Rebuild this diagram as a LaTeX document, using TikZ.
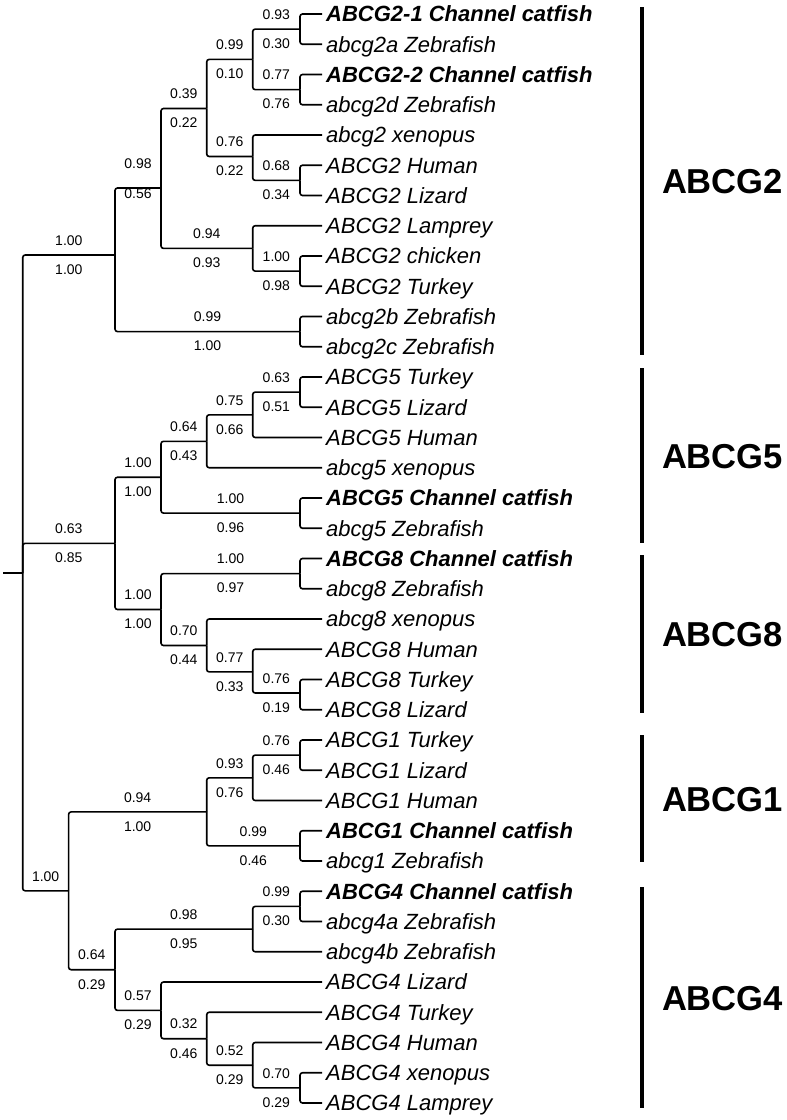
\documentclass[tikz,border=0pt]{standalone}
\usepackage{fontspec}
\setmainfont{Liberation Sans}

\tikzset{
  branch/.style={line width=1.6pt,rounded corners=2.5pt},
  leaf/.style={anchor=west,inner sep=4pt,text height=15.8pt,text depth=0pt,font=\fontsize{22}{22}\selectfont\itshape},
  leafbf/.style={leaf,font=\fontsize{22}{22}\selectfont\bfseries\itshape},
  bsval/.style={inner sep=0pt,text height=10pt,text depth=0pt,font=\fontsize{14}{14}\selectfont},
  bsup/.style={bsval,pos=.75,yshift=14.8pt},
  bsdn/.style={bsval,pos=.75,yshift=-14.3pt},
  cladebar/.style={line width=4pt},
  cladename/.style={midway,anchor=west,xshift=18pt,inner sep=0pt,text height=25pt,text depth=0pt,font=\fontsize{34.6}{35}\selectfont\bfseries},
}

\begin{document}
\begin{tikzpicture}[x=1pt,y=-1pt]
\useasboundingbox[fill=white] (0,0) rectangle (787,1120);

% leaves
\foreach \s/\t [count=\i] in {
  leafbf/ABCG2-1 Channel catfish, leaf/abcg2a Zebrafish,
  leafbf/ABCG2-2 Channel catfish, leaf/abcg2d Zebrafish,
  leaf/abcg2 xenopus, leaf/ABCG2 Human, leaf/ABCG2 Lizard,
  leaf/ABCG2 Lamprey, leaf/ABCG2 chicken, leaf/ABCG2 Turkey,
  leaf/abcg2b Zebrafish, leaf/abcg2c Zebrafish,
  leaf/ABCG5 Turkey, leaf/ABCG5 Lizard, leaf/ABCG5 Human, leaf/abcg5 xenopus,
  leafbf/ABCG5 Channel catfish, leaf/abcg5 Zebrafish,
  leafbf/ABCG8 Channel catfish, leaf/abcg8 Zebrafish, leaf/abcg8 xenopus,
  leaf/ABCG8 Human, leaf/ABCG8 Turkey, leaf/ABCG8 Lizard,
  leaf/ABCG1 Turkey, leaf/ABCG1 Lizard, leaf/ABCG1 Human,
  leafbf/ABCG1 Channel catfish, leaf/abcg1 Zebrafish,
  leafbf/ABCG4 Channel catfish, leaf/abcg4a Zebrafish, leaf/abcg4b Zebrafish,
  leaf/ABCG4 Lizard, leaf/ABCG4 Turkey, leaf/ABCG4 Human,
  leaf/ABCG4 xenopus, leaf/ABCG4 Lamprey}
  \node[\s] (leaf\i) at (322,{14+30.25*(\i-1)}) {\t};

% internal nodes
\coordinate (stub) at (3,573);
\coordinate (root) at (22.7,573);
\coordinate (g2) at (115,255);
\coordinate (g2a) at (161,188);
\coordinate (g2b) at (206.7,108.5);
\coordinate (g2c) at (252.7,59.4);
\coordinate (g2d1) at (300,29.1);
\coordinate (g2d2) at (300,89.6);
\coordinate (g2x) at (252.7,156.5);
\coordinate (g2hl) at (300,180.4);
\coordinate (g2lam) at (252.7,248.4);
\coordinate (g2ct) at (300,271.1);
\coordinate (g2bc) at (300,331.6);
\coordinate (g58) at (115,543.3);
\coordinate (g5) at (161,477.2);
\coordinate (g5x) at (206.7,441.3);
\coordinate (g5h) at (252.7,414.8);
\coordinate (g5tl) at (300,392.1);
\coordinate (g5cz) at (300,513.1);
\coordinate (g8) at (161,609.5);
\coordinate (g8cz) at (300,573.6);
\coordinate (g8x) at (206.7,645.5);
\coordinate (g8h) at (252.7,671.9);
\coordinate (g8tl) at (300,693);
\coordinate (g14) at (68.6,890.8);
\coordinate (g1) at (206.7,811.9);
\coordinate (g1h) at (252.7,777.8);
\coordinate (g1tl) at (300,755.1);
\coordinate (g1cz) at (300,845.9);
\coordinate (g4) at (115,969.7);
\coordinate (g4z) at (252.7,929.1);
\coordinate (g4cz) at (300,906.4);
\coordinate (g4l) at (161,1010.4);
\coordinate (g4t) at (206.7,1038.7);
\coordinate (g4hu) at (252.7,1065.2);
\coordinate (g4xl) at (300,1087.9);

% root
\draw[branch] (stub) -- (root);
\draw[branch] (root) |- node[bsup]{1.00} node[bsdn]{1.00} (g2);
\draw[branch] (root) |- node[bsup]{0.63} node[bsdn]{0.85} (g58);
\draw[branch] (root) |- node[bsup]{1.00} (g14);

% ABCG2
\draw[branch] (g2) |- (g2a);
\node[bsval] (s2aup) at (138,163.5) {0.98};
\node[bsval] (s2adn) at (138,193) {0.56};
\draw[branch] (g2) |- node[bsup]{0.99} node[bsdn]{1.00} (g2bc);
\draw[branch] (g2a) |- node[bsup]{0.39} node[bsdn]{0.22} (g2b);
\draw[branch] (g2a) |- node[bsup]{0.94} node[bsdn]{0.93} (g2lam);
\draw[branch] (g2b) |- node[bsup]{0.99} node[bsdn]{0.10} (g2c);
\draw[branch] (g2b) |- node[bsup]{0.76} node[bsdn]{0.22} (g2x);
\draw[branch] (g2c) |- node[bsup]{0.93} node[bsdn]{0.30} (g2d1);
\draw[branch] (g2c) |- node[bsup]{0.77} node[bsdn]{0.76} (g2d2);
\draw[branch] (g2x) |- node[bsup]{0.68} node[bsdn]{0.34} (g2hl);
\draw[branch] (g2lam) |- node[bsup]{1.00} node[bsdn]{0.98} (g2ct);

% ABCG5 and ABCG8
\draw[branch] (g58) |- node[bsup]{1.00} node[bsdn]{1.00} (g5);
\draw[branch] (g58) |- node[bsup]{1.00} node[bsdn]{1.00} (g8);
\draw[branch] (g5) |- node[bsup]{0.64} node[bsdn]{0.43} (g5x);
\draw[branch] (g5) |- node[bsup]{1.00} node[bsdn]{0.96} (g5cz);
\draw[branch] (g5x) |- node[bsup]{0.75} node[bsdn]{0.66} (g5h);
\draw[branch] (g5h) |- node[bsup]{0.63} node[bsdn]{0.51} (g5tl);
\draw[branch] (g8) |- node[bsup]{1.00} node[bsdn]{0.97} (g8cz);
\draw[branch] (g8) |- node[bsup]{0.70} node[bsdn]{0.44} (g8x);
\draw[branch] (g8x) |- node[bsup]{0.77} node[bsdn]{0.33} (g8h);
\draw[branch] (g8h) |- node[bsup]{0.76} node[bsdn]{0.19} (g8tl);

% ABCG1 and ABCG4
\draw[branch] (g14) |- node[bsup]{0.94} node[bsdn]{1.00} (g1);
\draw[branch] (g14) |- node[bsup]{0.64} node[bsdn]{0.29} (g4);
\draw[branch] (g1) |- node[bsup]{0.93} node[bsdn]{0.76} (g1h);
\draw[branch] (g1) |- node[bsup]{0.99} node[bsdn]{0.46} (g1cz);
\draw[branch] (g1h) |- node[bsup]{0.76} node[bsdn]{0.46} (g1tl);
\draw[branch] (g4) |- node[bsup]{0.98} node[bsdn]{0.95} (g4z);
\draw[branch] (g4) |- node[bsup]{0.57} node[bsdn]{0.29} (g4l);
\draw[branch] (g4z) |- node[bsup]{0.99} node[bsdn]{0.30} (g4cz);
\draw[branch] (g4l) |- node[bsup]{0.32} node[bsdn]{0.46} (g4t);
\draw[branch] (g4t) |- node[bsup]{0.52} node[bsdn]{0.29} (g4hu);
\draw[branch] (g4hu) |- node[bsup]{0.70} node[bsdn]{0.29} (g4xl);

% branches to leaves
\foreach \p/\l in {g2d1/1,g2d1/2,g2d2/3,g2d2/4,g2x/5,g2hl/6,g2hl/7,
  g2lam/8,g2ct/9,g2ct/10,g2bc/11,g2bc/12,
  g5tl/13,g5tl/14,g5h/15,g5x/16,g5cz/17,g5cz/18,
  g8cz/19,g8cz/20,g8x/21,g8h/22,g8tl/23,g8tl/24,
  g1tl/25,g1tl/26,g1h/27,g1cz/28,g1cz/29,
  g4cz/30,g4cz/31,g4z/32,g4l/33,g4t/34,g4hu/35,g4xl/36,g4xl/37}
  \draw[branch] (\p) |- (leaf\l.west);

% clade bars
\coordinate (b2t) at (642,7);    \coordinate (b2b) at (642,355);
\coordinate (b5t) at (642,368);  \coordinate (b5b) at (642,543);
\coordinate (b8t) at (642,555);  \coordinate (b8b) at (642,713);
\coordinate (b1t) at (642,735);  \coordinate (b1b) at (642,862);
\coordinate (b4t) at (642,887);  \coordinate (b4b) at (642,1108);
\draw[cladebar] (b2t) -- (b2b) node[cladename]{ABCG2};
\draw[cladebar] (b5t) -- (b5b) node[cladename]{ABCG5};
\draw[cladebar] (b8t) -- (b8b) node[cladename]{ABCG8};
\draw[cladebar] (b1t) -- (b1b) node[cladename]{ABCG1};
\draw[cladebar] (b4t) -- (b4b) node[cladename]{ABCG4};
\end{tikzpicture}
\end{document}
